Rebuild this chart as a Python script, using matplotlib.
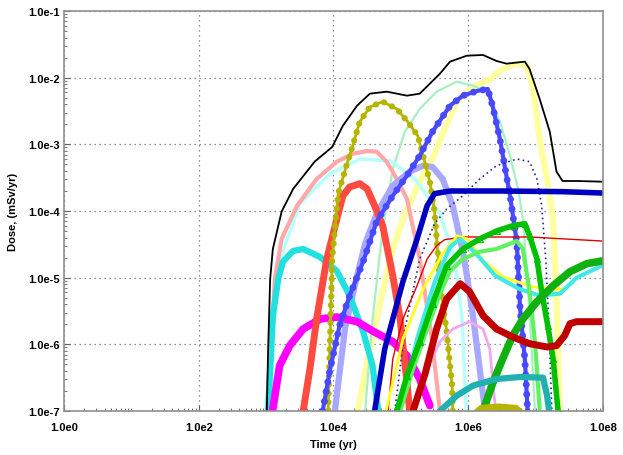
import numpy as np
import matplotlib
matplotlib.use("Agg")
import matplotlib.pyplot as plt
from matplotlib.ticker import LogLocator, FixedLocator, NullFormatter

# values, stored as log10(time [yr]) and log10(dose [mSv/yr])
total_lt = [3.01, 3.03, 3.06, 3.10, 3.23, 3.40, 3.72, 3.98, 4.14, 4.35, 4.54, 4.79, 5.09, 5.28, 5.43,
            5.58, 5.73, 5.98, 6.22, 6.42, 6.57, 6.84, 6.91, 7.06, 7.21, 7.31, 7.40, 7.61, 7.98]
total_ld = [-7.0, -6.07, -5.02, -4.57, -4.01, -3.67, -3.26, -3.04, -2.72, -2.42, -2.24, -2.21, -2.27, -2.24, -2.09,
            -1.94, -1.76, -1.67, -1.66, -1.75, -1.79, -1.76, -1.87, -2.32, -2.81, -3.41, -3.55, -3.55, -3.56]

olive_lt = [3.92, 3.98, 4.07, 4.21, 4.27, 4.39, 4.54, 4.73, 4.94, 5.10, 5.25, 5.33, 5.43, 5.50, 5.58, 5.68, 5.76, 5.77]
olive_ld = [-7.0, -4.72, -3.74, -3.26, -3.07, -2.66, -2.44, -2.36, -2.47, -2.66, -2.87, -3.17, -3.56, -4.01, -5.06, -5.81, -6.62, -7.0]

pink_lt = [3.04, 3.07, 3.13, 3.23, 3.46, 3.75, 4.05, 4.29, 4.50, 4.64, 4.79, 4.94, 5.09, 5.28, 5.46, 5.58]
pink_ld = [-7.0, -6.07, -5.02, -4.42, -3.92, -3.52, -3.26, -3.14, -3.10, -3.11, -3.26, -3.52, -3.82, -4.72, -5.92, -7.0]

lcyan_lt = [3.07, 3.11, 3.21, 3.50, 3.95, 4.39, 4.85, 5.21, 5.58, 5.80, 5.91, 5.97]
lcyan_ld = [-7.0, -5.77, -4.72, -3.89, -3.44, -3.22, -3.25, -3.52, -4.04, -4.72, -5.62, -7.0]

turq_lt = [3.03, 3.06, 3.10, 3.18, 3.25, 3.40, 3.55, 3.80, 4.05, 4.24, 4.44, 4.58, 4.66]
turq_ld = [-6.97, -6.37, -5.57, -5.02, -4.76, -4.60, -4.57, -4.69, -4.90, -5.27, -5.81, -6.32, -6.97]

magenta_lt = [3.10, 3.20, 3.35, 3.55, 3.80, 4.05, 4.35, 4.58, 4.88, 5.09, 5.28, 5.43]
magenta_ld = [-6.97, -6.32, -6.02, -5.77, -5.62, -5.59, -5.66, -5.80, -5.96, -6.17, -6.52, -6.92]

red_lt = [3.55, 3.65, 3.75, 3.90, 4.05, 4.14, 4.24, 4.39, 4.50, 4.61, 4.73, 4.88, 4.99, 5.03, 5.09, 5.13]
red_ld = [-7.0, -6.37, -5.62, -4.72, -4.12, -3.77, -3.64, -3.59, -3.67, -3.92, -4.22, -4.97, -5.62, -6.02, -6.56, -7.0]

blue_lt = [3.84, 3.95, 4.09, 4.24, 4.44, 4.64, 4.88, 5.09, 5.28, 5.47, 5.73, 5.92, 6.13, 6.29, 6.36, 6.47,
           6.54, 6.62, 6.72, 6.77, 6.84, 6.88]
blue_ld = [-7.0, -6.37, -5.72, -5.27, -4.76, -4.16, -3.77, -3.47, -3.17, -2.81, -2.42, -2.27, -2.20, -2.17, -2.42, -2.92,
           -3.32, -3.77, -4.46, -5.47, -6.22, -6.97]

lav_lt = [4.02, 4.17, 4.35, 4.47, 4.64, 4.88, 5.13, 5.33, 5.47, 5.62, 5.77, 5.92, 5.98, 6.07, 6.17, 6.25]
lav_ld = [-7.0, -5.77, -4.97, -4.49, -4.04, -3.62, -3.41, -3.32, -3.34, -3.52, -3.92, -4.61, -4.97, -5.57, -6.37, -7.0]

mint_lt = [4.47, 4.58, 4.73, 4.88, 5.06, 5.28, 5.53, 5.83, 6.07, 6.28, 6.47, 6.62, 6.74, 6.81, 6.88, 6.94, 6.99]
mint_ld = [-7.0, -5.62, -4.27, -3.37, -2.81, -2.47, -2.21, -2.06, -2.12, -2.21, -2.66, -3.17, -3.67, -4.12, -5.02, -6.07, -7.0]

pyel_lt = [4.36, 4.54, 4.73, 4.88, 5.03, 5.28, 5.47, 5.65, 5.83, 6.07, 6.32, 6.51, 6.72, 6.87, 6.96, 7.06,
           7.17, 7.26, 7.31, 7.36]
pyel_ld = [-7.0, -6.07, -5.21, -4.57, -4.12, -3.56, -3.22, -2.77, -2.36, -2.14, -2.02, -1.87, -1.79, -1.82, -2.17, -2.92,
           -3.52, -4.12, -5.32, -7.0]

navy_lt = [4.61, 4.76, 4.88, 5.03, 5.24, 5.39, 5.50, 5.73, 6.47, 7.40, 7.98]
navy_ld = [-7.0, -6.07, -5.62, -5.06, -4.42, -3.92, -3.74, -3.70, -3.70, -3.71, -3.73]

navyd_lt = [4.91, 5.06, 5.28, 5.50, 5.68, 5.92, 6.17, 6.42, 6.72, 6.91, 7.02, 7.09, 7.15, 7.20, 7.24]
navyd_ld = [-7.0, -5.77, -4.72, -4.19, -3.97, -3.77, -3.52, -3.32, -3.22, -3.26, -3.52, -3.92, -4.72, -5.77, -7.0]

thinred_lt = [4.81, 4.88, 5.03, 5.24, 5.39, 5.53, 5.65, 5.92, 6.91, 7.98]
thinred_ld = [-7.0, -6.22, -5.62, -5.12, -4.72, -4.52, -4.43, -4.39, -4.39, -4.45]

green_lt = [4.94, 5.09, 5.28, 5.47, 5.68, 5.92, 6.17, 6.42, 6.66, 6.84, 6.91, 7.02, 7.09, 7.18, 7.26, 7.33]
green_ld = [-7.0, -6.47, -5.96, -5.39, -4.82, -4.57, -4.42, -4.30, -4.22, -4.19, -4.37, -4.72, -5.21, -5.72, -6.22, -6.97]

lgreen_lt = [4.99, 5.18, 5.39, 5.58, 5.73, 5.92, 6.17, 6.42, 6.72, 6.81, 6.91, 6.99, 7.06]
lgreen_ld = [-7.0, -6.37, -5.77, -5.24, -4.90, -4.72, -4.61, -4.57, -4.45, -4.57, -5.21, -5.96, -6.97]

yellow_lt = [4.78, 5.03, 5.33, 5.62, 5.84, 5.99, 6.22, 6.52, 6.96, 7.40]
yellow_ld = [-7.0, -5.92, -5.17, -4.64, -4.37, -4.42, -4.74, -4.99, -5.14, -5.17]

cyan_lt = [4.99, 5.24, 5.50, 5.73, 5.88, 6.10, 6.40, 6.76, 7.06, 7.36, 7.61, 7.98]
cyan_ld = [-7.0, -5.92, -5.07, -4.54, -4.42, -4.62, -4.97, -5.17, -5.27, -5.24, -5.00, -4.82]

green2_lt = [6.22, 6.36, 6.51, 6.66, 6.81, 7.02, 7.26, 7.51, 7.76, 7.98]
green2_ld = [-7.0, -6.59, -6.22, -5.87, -5.62, -5.36, -5.12, -4.91, -4.79, -4.75]

dred_lt = [5.18, 5.36, 5.53, 5.68, 5.88, 6.02, 6.22, 6.42, 6.66, 6.91, 7.17, 7.31, 7.43, 7.51, 7.61, 7.98]
dred_ld = [-7.0, -6.44, -5.77, -5.32, -5.09, -5.21, -5.57, -5.77, -5.89, -5.99, -6.04, -6.02, -5.87, -5.69, -5.66, -5.66]

violet_lt = [5.21, 5.36, 5.58, 5.77, 6.02, 6.22, 6.32, 6.38, 6.41]
violet_ld = [-7.0, -6.44, -5.96, -5.77, -5.66, -5.77, -6.07, -6.74, -7.0]

teal_lt = [5.58, 5.83, 6.07, 6.42, 6.77, 7.11, 7.17, 7.20]
teal_ld = [-7.0, -6.77, -6.62, -6.52, -6.49, -6.50, -6.77, -7.0]

olive2_lt = [6.05, 6.20, 6.45, 6.70, 6.85]
olive2_ld = [-7.1, -6.97, -6.95, -6.97, -7.1]

# (log t, log dose, colour, line width, dot width or 0, open-marker or None)
series = [
    (pyel_lt, pyel_ld, '#ffffa0', 4.5, 0, None),
    (mint_lt, mint_ld, '#a8f0c0', 1.6, 0, None),
    (lcyan_lt, lcyan_ld, '#b8ffff', 2.5, 0, None),
    (pink_lt, pink_ld, '#ffa8a8', 3.0, 0, None),
    (lav_lt, lav_ld, '#a8a8ff', 4.5, 0, None),
    (turq_lt, turq_ld, '#20e0e0', 4.5, 0, None),
    (magenta_lt, magenta_ld, '#ff00ff', 5.5, 0, None),
    (red_lt, red_ld, '#ff4a40', 5.0, 0, None),
    (olive_lt, olive_ld, '#b5b500', 2.0, 4.5, None),
    (blue_lt, blue_ld, '#4848ff', 3.0, 5.0, None),
    (navyd_lt, navyd_ld, '#2a2a90', -1.2, 0, None),
    (thinred_lt, thinred_ld, '#e00000', 1.0, 0, None),
    (violet_lt, violet_ld, '#f0a8f0', 2.0, 0, None),
    (yellow_lt, yellow_ld, '#ffff20', 2.0, 0, None),
    (cyan_lt, cyan_ld, '#40e8e8', 3.0, 0, None),
    (lgreen_lt, lgreen_ld, '#60f060', 3.0, 0, None),
    (green_lt, green_ld, '#00c000', 4.0, 0, '^'),
    (green2_lt, green2_ld, '#10b010', 5.5, 0, None),
    (navy_lt, navy_ld, '#0000c0', 4.0, 0, None),
    (dred_lt, dred_ld, '#c00000', 5.0, 0, None),
    (teal_lt, teal_ld, '#20b0b0', 4.5, 0, None),
    (olive2_lt, olive2_ld, '#b5b500', 6.0, 0, None),
    (total_lt, total_ld, '#000000', 1.3, 0, None),
]

plt.rcParams['font.family'] = ['Liberation Sans', 'DejaVu Sans']

fig = plt.figure(figsize=(6.23, 4.56), dpi=100)
ax = fig.add_axes([0.1027, 0.0965, 0.8652, 0.8772])

for lt, ld, col, lw, dot, mk in series:
    t = 10.0 ** np.array(lt)
    d = 10.0 ** np.array(ld)
    if lw < 0:
        # dotted line
        ax.plot(t, d, color=col, lw=-lw, ls=(0, (1, 2)))
        continue
    ax.plot(t, d, color=col, lw=lw, solid_capstyle='round', solid_joinstyle='round')
    if dot:
        # chain of round dots, like the densely spaced markers of the original
        ax.plot(t, d, color=col, lw=dot, ls=(0, (0.01, 1.4)), dash_capstyle='round')
    if mk:
        ax.plot(t, d, ls='none', marker=mk, ms=4.5, mfc='none', mec=col, mew=0.9)

ax.set_xscale('log')
ax.set_yscale('log')
ax.set_xlim(1, 1e8)
ax.set_ylim(1e-7, 1e-1)

xmaj = [1e0, 1e2, 1e4, 1e6, 1e8]
ax.xaxis.set_major_locator(FixedLocator(xmaj))
ax.set_xticklabels(['1.0e0', '1.0e2', '1.0e4', '1.0e6', '1.0e8'], fontweight='bold', fontsize=8)
ax.xaxis.set_minor_locator(LogLocator(base=10, subs=np.arange(1, 10), numticks=100))
ax.xaxis.set_minor_formatter(NullFormatter())
ymaj = [1e-7, 1e-6, 1e-5, 1e-4, 1e-3, 1e-2, 1e-1]
ax.yaxis.set_major_locator(FixedLocator(ymaj))
ax.set_yticklabels(['1.0e-7', '1.0e-6', '1.0e-5', '1.0e-4', '1.0e-3', '1.0e-2', '1.0e-1'],
                   fontweight='bold', fontsize=8)
ax.yaxis.set_minor_locator(LogLocator(base=10, subs=np.arange(1, 10), numticks=100))
ax.yaxis.set_minor_formatter(NullFormatter())

ax.tick_params(which='both', direction='in', color='#606060')
ax.tick_params(which='major', length=4)
ax.tick_params(axis='x', which='major', pad=8)
ax.tick_params(axis='y', which='major', pad=3)
ax.tick_params(which='minor', length=2)

ax.grid(True, which='major', ls=(0, (1, 3)), color='#707070', lw=0.9)
for s in ax.spines.values():
    s.set_color('#909090')
    s.set_linewidth(1.2)

ax.set_xlabel('Time (yr)', fontweight='bold', fontsize=8, labelpad=5)
ax.set_ylabel('Dose, (mSv/yr)', fontweight='bold', fontsize=8, labelpad=7)

fig.savefig('out.png', dpi=100)
